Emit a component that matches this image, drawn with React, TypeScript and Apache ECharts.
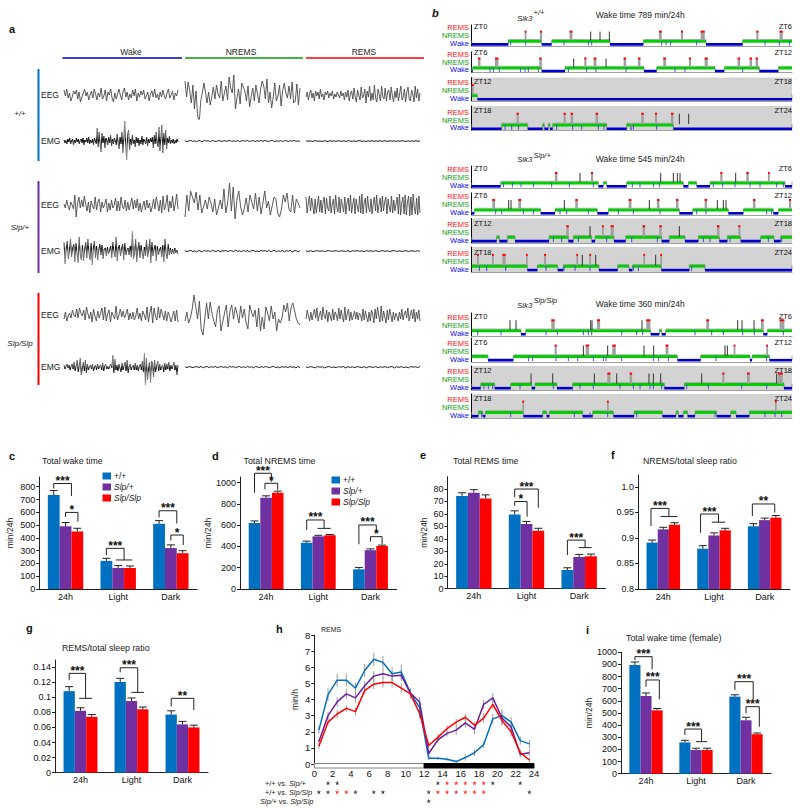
import React, { useEffect, useRef } from "react";
import * as echarts from "echarts";

const FONT = "Liberation Sans";
const BLUE = "#0070c0";
const PURPLE = "#7030a0";
const RED = "#ff0000";
const GENOTYPES = ["+/+", "Slp/+", "Slp/Slp"];
const GROUPS = ["24h", "Light", "Dark"];

// ---------- panel a : traces (read by eye, arbitrary units, pixels around the trace's centre)
const a1WakeEEG = [5,-1,6,-3,2,-6,-2,4,1,5,-4,3,-7,-2,2,6,-1,3,-5,0,4,-3,6,1,-5,2,-2,7,-4,-1,5,-6,3,0,6,-3,-7,2,-4,1,6,0,-5,4,7,-2,3,-5,1,-3,5,-1,6,-6,2,-2,4,0,5,-4,-1,3,-6,1,4,-2,6,-3,1,-5,3,-2,5,-1,-4,2,6,-3,0,4,-5,2,-1,5];
const a1NremEEG = [14,-2,13,4,-8,10,-14,4,-20,-28,-6,2,12,3,-8,3,-10,-2,8,-4,10,1,-3,14,-6,2,9,-5,18,7,2,20,-14,-3,6,-9,12,8,4,-6,9,-12,-2,7,-6,10,1,-8,6,14,9,-4,16,-8,3,-13,-2,12,-6,-1,10,-11,4,12,2,-3,9,-4,13,-8,-6,11,-10,7];
const a1RemEEG = [-2,3,-5,1,5,-3,2,-6,4,-1,3,-4,6,-2,1,-5,3,0,4,-3,2,-1,4,-4,1,-2,3,0,-3,4,-1,2,-5,3,-2,5,-6,1,4,-4,7,-2,-7,5,0,-5,8,-3,-1,6,-8,4,-2,9,-6,2,-5,10,-3,-7,6,1,-6,9,-2,-4,7,-6,3,5,-5,8,-1,-7,4,-3,7,-6,1,9,-5,-2,6,-7,3,8,-4,-6,5,1,-7,9,-3,6,-6,2];
const a1WakeEMG = [1,-2,0.5,-3,2,-1,3,-3,0,2,-4,1,-2,3,-1,2,-3,0.5,2,-2,3,-4,1,-1,3,-2,4,-3,1,-2,2,-4,3,0,-3,13,-6,9,-3,-11,8,-2,5,-7,3,1,-4,4,-2,6,-5,2,-3,3,0,-4,7,-2,-8,4,-3,9,-12,3,20,-5,-19,7,11,-9,2,-4,6,-3,1,-6,4,-2,3,-5,1,-3,5,-4,2,0,-3,4,-5,2,-2,3,-1,4,-7,6,-3,9,-2,-6,14,-10,4,16,-12,8,-4,11,-8,3,-2,5,-3,1,-2,2,-3,0.5,-2,2,-1];
const a1NremEMG = [0.3,-0.6,0.1,0.5,-0.4,0.2,-0.7,0.4,0,-0.5,0.6,-0.2,0.3,-0.6,0.5,-0.1,-0.5,0.4,0.2,-0.6,0.5,-0.3,0.1,0.6,-0.5,0.2,-0.4,0.5,-0.6,0.1,0.4,-0.3,0.6,-0.5,0,0.4,-0.6,0.3,-0.2,0.5,-0.4,0.6,-0.1,-0.5,0.3,0.4,-0.6,0.2,-0.3,0.5,-0.5,0.1,0.4,-0.6,0.3,-0.2,0.5,-0.4,0.2,-0.5];
const a1RemEMG = [0.1,-0.3,0.2,-0.4,0,0.3,-0.3,0.1,-0.5,0.2,0,-0.4,0.3,-0.2,0.1,-0.4,0.3,-0.1,-0.3,0.2,-0.5,0.3,0,-0.3,0.2,-0.4,0.1,0.3,-0.3,0,-0.5,0.2,-0.2,0.4,-0.4,0.1,-0.2,0.3,-0.5,0.2,0,-0.3,0.3,-0.2,0.1,-0.4,0.2,-0.3,0.3,-0.1,-0.4,0.2,-0.3,0.1,-0.2,0.3,-0.4,0.1];
const a2WakeEEG = [1,-3,5,-1,-5,3,0,-4,10,-12,2,8,-3,5,-2,9,1,-6,3,-8,4,-1,-4,8,-5,3,6,-7,3,-3,1,6,-7,2,-5,5,-3,0,7,-6,4,-6,8,-1,-4,5,-6,3,-5,1,7,-4,5,-3,6,-6,2,-7,-1,4,-5,5,-3,2,-7,-2,6,-4,8,1,-6,5,-8,9,-5,0,10,-7,4,-3,9,-6,1,11,-4];
const a2NremEEG = [-12,10,-6,14,8,2,13,-5,10,-8,-2,5,-4,8,2,-7,6,-10,-3,5,-4,16,-8,2,22,-6,18,-14,6,14,-2,-10,-3,7,-7,10,3,-4,12,-6,8,-9,2,14,-3,4,-10,-1,8,6,-8,-12,-4,10,3,12,-4,-7,10,-8,6,2,-3];
const a2RemEEG = [8,-8,2,9,-6,7,-1,-9,6,-8,0,9,-7,5,-8,3,8,-9,7,-3,-6,9,-8,1,6,-9,10,-2,-7,8,-8,6,-1,-7,8,-9,3,7,-6,10,-8,0,7,-9,6,-2,-7,9,-8,11,-9,2,7,-8,9,-3,-7,6,-9,1,8,-6,10,-8,0,7,-7,9,-6,3,8,-9,6,-2,-7,9,-8,5,-6,1,8,-9,11,-10,2,8,-9,10,-10,3,9,-11,8,-10,11,-3,-9,7,-10,9,-8];
const a2WakeEMG = [9,-13,2,10,-8,0,12,-6,3,7,-11,8,-2,-12,14,-4,-9,6,-10,1,9,-7,12,-2,-9,8,-14,3,10,-7,5,-9,1,7,-4,6,-8,2,3,-5,4,-3,1,5,-7,9,-1,-6,14,-10,3,6,-5,2,7,-9,8,-4,1,3,-4,5,-6,20,-8,-3,12,-11,1,9,-7,6,-2,-8,4,-5,11,-6,0,12,-12,9,-5,2,6,-10,5,-4,1,4,-6,6,-11,12,-2,-8,7,-4,3,-3,2,-3,3,-2,1,-3];
const a2NremEMG = [0.4,-0.7,0.2,0.6,-0.5,0.1,-0.8,0.5,-0.2,-0.6,0.7,-0.3,0.4,-0.7,0.6,0,-0.5,0.7,-0.8,0.3,-0.2,0.6,-0.7,0.5,0.1,-0.6,0.8,-0.4,0.2,-0.7,0.6,-0.3,0.5,-0.8,0.3,0.6,-0.5,0.1,-0.7,0.6,-0.2,0.4,-0.6,0.7,-0.8,0.2,0.5,-0.7,0.3,-0.5,0.6,-0.8,0.4,-0.3,0.7,-0.9,0.2,0.6,-1,0.4];
const a2RemEMG = [0.1,-0.4,0.3,-0.5,0,0.3,-0.4,0.2,-0.5,0.1,0.3,-0.3,-0.1,0.4,-0.5,0.2,0,-0.4,0.3,-0.6,0.2,-0.1,0.4,-0.3,0.1,-0.5,0.3,-0.2,0.2,-0.4,0.4,-0.5,0,0.3,-0.3,0.2,-0.6,0.1,0.3,-0.4,0.2,-0.3,-0.1,0.4,-0.5,0.2,0,-0.3,0.3,-0.5];
const a3WakeEEG = [-4,3,-6,-1,2,-3,5,0,-2,6,-3,7,2,-1,5,-5,8,1,-4,3,-7,6,-1,-6,4,-3,2,7,-5,8,-6,1,5,-7,3,-1,-4,9,-5,0,6,-2,4,-3,1,6,-5,2,-4,3,-5,-1,7,-4,2,-6,4,0,-5,8,-7,2,9,-8,7,-1,-5,8,-3,6,1,-5,4,-6,3,-1,-7,-2,4,-6,5,-7];
const a3NremEEG = [-6,3,-8,-3,6,20,8,-4,14,-14,-20,-4,12,-4,13,2,-6,-12,4,9,-16,-7,2,10,-12,4,10,-4,8,1,-8,9,-3,6,-8,-14,10,3,-2,5,-12,7,-16,-2,-14,8,2,-6,9,-4,3,-16,-4,-8,-3,10,3,12,-6,7,12,4,-4,-8,-10];
const a3RemEEG = [-4,5,-1,-6,3,-5,1,6,-3,7,-6,0,4,-5,8,-1,-4,5,-7,3,-1,-6,6,-5,3,0,-6,7,-4,5,-2,-7,8,-5,1,6,-6,3,-5,-1,4,-4,3,-5,2,0,-6,6,-5,4,-2,-7,3,-6,5,1,-8,6,-4,8,-1,-7,9,-6,4,-2,-8,5,-5,6,0,-7,3,-5,2,-1,-6,3,-4,6,-5,1,4,-3,7,-6,0,5,-4,6,-7,3,-4,5,-6];
const a3WakeEMG = [2,-2,0.5,3,-1,2,-3,1,3,-2,5,-4,1,7,-5,2,9,-8,-1,5,-4,7,-6,3,-3,0.5,2,-2,3,-4,0,2,-3,3,-2,1,2,-3,4,-4,1,3,-2,0.5,-2,1,3,-1,12,-6,8,-3,2,-4,3,-1,-5,4,-3,1,5,-4,7,-6,1,3,-3,0.5,2,-3,4,-3,2,-4,1,3,-3,6,-5,14,-18,9,-13,-3,5,-16,6,4,-10,7,-5,1,6,-4,3,-3,0.5,2,-5,4,-3,3,-2,5,-4,2,-2,1,5,-3,2,-8,2];
const a3NremEMG = [0.3,-0.6,0.5,-0.1,-0.7,0.4,0.2,-0.5,0.6,-0.8,0.1,0.5,-0.6,0.3,-0.3,0.6,-0.7,0,0.5,-0.4,0.2,-0.8,0.6,-0.2,0.4,-0.7,0.1,0.5,-0.5,0.3,-0.6,0.6,-0.3,0.2,-0.8,0.5,0,-0.6,0.4,-0.5,0.6,-0.2,-0.7,0.3,0.5,-0.6,0.1,-0.8,0.5,-0.3,0.4,-0.7,0.6,-0.4,0.2,-0.9,0.5,-0.5];
const a3RemEMG = [0.2,-0.6,0.4,-0.1,-0.8,0.5,-0.3,0.3,-0.9,0.1,0.5,-0.5,0,-0.7,0.4,-0.2,0.5,-1,0.3,-0.4,0.2,-0.7,0.5,-0.1,-0.6,0.4,-0.9,0.3,0,-0.5,0.5,-0.8,0.2,-0.3,0.4,-0.7,0.1,0.5,-1,0.3,-0.4,0.4,-0.6,0.1,-0.8,0.5,-0.2,0.3,-0.5,0.4];
const traceRows = [
  { y: 95, traces: [a1WakeEEG, a1NremEEG, a1RemEEG] },
  { y: 141, traces: [a1WakeEMG, a1NremEMG, a1RemEMG] },
  { y: 205, traces: [a2WakeEEG, a2NremEEG, a2RemEEG] },
  { y: 251, traces: [a2WakeEMG, a2NremEMG, a2RemEMG] },
  { y: 315, traces: [a3WakeEEG, a3NremEEG, a3RemEEG] },
  { y: 367, traces: [a3WakeEMG, a3NremEMG, a3RemEMG] },
];

// ---------- panel b : hypnograms, time units along each 6 h row run from 155 to 1116
const hypnoWake = [
  [[155,265],[365,395],[570,670],[858,968]],
  [[155,158],[365,435],[672,710],[885,913],[1018,1075]],
  [[172,1116]],
  [[155,245],[323,368],[373,385],[390,398],[560,620],[632,634],[760,1116]],
  [[155,242],[535,550],[560,620],[790,805],[830,870],[1095,1116]],
  [[155,163],[362,405],[532,565],[778,818],[925,970],[1060,1075]],
  [[155,230],[238,262],[285,387],[445,460],[515,525],[582,617],[725,748],[795,835],[898,922],[962,1022],[1062,1082]],
  [[322,352],[413,430],[537,593],[627,637],[724,808],[855,1116]],
  [[303,317],[692,718],[725,737],[1030,1042]],
  [[204,280],[772,842],[990,996],[1048,1116]],
  [[155,182],[224,272],[335,345],[411,458],[733,793],[1092,1116]],
  [[155,175],[188,196],[310,368],[380,388],[488,518],[580,642],[727,768],[775,790],[803,825],[890,932],[948,988]],
];
const hypnoRems = [
  [[315,318],[361,365],[450,456],[718,724],[784,788],[843,853],[1010,1014],[1080,1087]],
  [[175,180],[226,234],[359,364],[494,498],[522,528],[612,617],[655,660],[731,737],[808,812],[855,862],[954,959],[990,995],[1008,1013]],
  [[156,160]],
  [[291,295],[432,436],[453,458],[528,533],[665,670],[706,710],[754,759]],
  [[406,411],[514,518],[902,906],[980,985],[1045,1048]],
  [[218,224],[296,302],[467,472],[627,633],[712,717],[769,774],[855,860],[1000,1005],[1108,1112]],
  [[440,445],[547,550],[573,580],[669,674],[719,724],[892,897],[956,960]],
  [[172,175],[217,220],[248,256],[319,322],[373,377],[470,473],[509,512],[671,674],[722,725]],
  [[395,403],[532,539],[680,690],[860,866],[1024,1030],[1080,1092]],
  [[405,409],[498,506],[578,586],[738,744],[942,945],[1040,1043]],
  [[563,570],[630,635],[908,912],[982,988],[1075,1087]],
  [[308,311],[562,565],[1066,1069]],
];
const hypnoSpikes = [
  [512,540,568],
  [461,558],
  [],
  [778,806],
  [480,722,760,772,780,947],
  [266,273,433,688,892,910,918],
  [510,778],
  [487,527,707],
  [270,288,512,516,666,953,966,1002],
  [490,563,672,701,915,922],
  [333,398,523,590,687,700,722,845,1070],
  [],
];
const hypnoBlips = [
  [272,317,432,505,515,725,738,752,830,1035,1078,1108],
  [210,220,238,302,315,325,355,445,500,528,618,765,795,968],
  [],
  [255,275,295,410,458,485,535,552,640,710],
  [250,277,303,340,395,448,520,637,660,700,718,880,908,945,990,1020,1070,1090],
  [227,245,310,340,420,440,505,595,640,720,830,858,1040,1055],
  [400,425,475,560,635,712,850,870,930,1045,1085],
  [178,200,257,378,432,465,510,640,655,815],
  [173,243,378,412,490,505,515,605,650,668,825,875,910,968,1003,1090],
  [326,338,408,445,473,520,550,558,605,700,716,745,888,1040],
  [192,205,218,300,400,480,520,600,640,660,690,700,725,800,865,965,1040],
  [185,272,463,510,563,650,885,1035,1065,1085],
];
const hypnoBoxes = [[25,46],[52,72.7],[77.5,101],[106,130.7],[166,188],[193,215],[218.5,243],[247,272],[313,336],[338,362],[366,390],[394,418]];
const hypnoShaded = [false,false,true,true,false,false,true,true,false,false,true,true];
const hypnoStartLabels = ["ZT0","ZT6","ZT12","ZT18","ZT0","ZT6","ZT12","ZT18","ZT0","ZT6","ZT12","ZT18"];
const hypnoEndLabels = ["ZT6","ZT12","ZT18","ZT24","ZT6","ZT12","ZT18","ZT24","ZT6","ZT12","ZT18","ZT24"];
const STATE_WAKE = 0, STATE_NREM = 1, STATE_REM = 3.2;

// ---------- bars: value per group (24h, Light, Dark)
const cWT = [735,220,510], cHet = [490,165,320], cHom = [450,165,280];
const cErrWT = [35,20,25], cErrHet = [30,18,25], cErrHom = [25,15,20];
const dWT = [620,435,185], dHet = [858,495,365], dHom = [905,505,405];
const dErrWT = [20,15,18], dErrHet = [18,10,12], dErrHom = [15,7,8];
const eWT = [74.5,59.5,15], eHet = [77,52,25.5], eHom = [72.5,46.5,26];
const eErrWT = [2.5,3,1.8], eErrHet = [2.5,2,2], eErrHom = [2.8,2,1.8];
const fWT = [0.891,0.879,0.923], fHet = [0.917,0.905,0.935], fHom = [0.926,0.915,0.94];
const fErrWT = [0.005,0.006,0.005], fErrHet = [0.004,0.005,0.004], fErrHom = [0.004,0.004,0.004];
const gWT = [0.108,0.12,0.077], gHet = [0.082,0.095,0.064], gHom = [0.074,0.084,0.06];
const gErrWT = [0.006,0.005,0.005], gErrHet = [0.004,0.004,0.004], gErrHom = [0.003,0.003,0.003];
const iWT = [895,258,635], iHet = [640,195,440], iHom = [522,195,325];
const iErrWT = [25,17,15], iErrHet = [25,15,25], iErrHom = [15,15,10];

const cTicks = [0,100,200,300,400,500,600,700,800];
const dTicks = [0,200,400,600,800,1000];
const eTicks = [0,10,20,30,40,50,60,70,80];
const fTicks = [0.8,0.85,0.9,0.95,1];
const gTicks = [0,0.02,0.04,0.06,0.08,0.1,0.12,0.14];
const iTicks = [0,100,200,300,400,500,600,700,800,900,1000];

// brackets: [group, left bar, right bar, y left end, y top, y right end, cap half width in bars, stars]
const cBrackets = [[0,0,1.5,786,825,727,0,"***"],[0,1,2.05,565,599,526,0,"*"],[1,0,1.5,266,318,227,0.7,"***"],[2,0,1.5,560,612,513,0,"***"],[2,1,2.05,378,422,344,0,"*"]];
const dBrackets = [[0,0,1.45,906,1088,1009,0,"***"],[0,0.9,2,937,994,931,0,"*"],[1,0,1.5,555,649,570,0.57,"***"],[2,0,1.5,420,602,530,0,"***"],[2,1,2,445,492,423,0,"*"]];
const eBrackets = [[1,0,2,73.4,80,65,0,"***"],[1,0,1.05,66.6,70,57.8,0,"*"],[2,0,1.5,27,39,33,0.55,"***"]];
const fBrackets = [[0,-0.1,1.5,0.9235,0.958,0.942,0.75,"***"],[1,-0.2,1.4,0.9105,0.947,0.931,0.6,"***"],[2,-0.1,1.9,0.943,0.9667,0.95,0,"**"]];
const gBrackets = [[0,0,1.45,0.1228,0.1316,0.0985,0.57,"***"],[1,0,1.55,0.133,0.139,0.1064,0.56,"***"],[2,0,2,0.0875,0.0985,0.083,0,"**"]];
const iBrackets = [[0,0,1.55,937,964,860,0,"***"],[0,1,2.2,717,772,613,0,"***"],[1,0,1.5,319,368,264,0.5,"***"],[2,0,1.65,690,758,613,0,"***"],[2,1,2.2,497,552,387,0,"***"]];

// ---------- panel h
const hours = [0.5,1.5,2.5,3.5,4.5,5.5,6.5,7.5,8.5,9.5,10.5,11.5,12.5,13.5,14.5,15.5,16.5,17.5,18.5,19.5,20.5,21.5,22.5,23.5];
const hWT = [2.1,4.3,5.2,5.2,4.7,5.8,6.5,6.3,5.6,5.7,4.4,3.5,0.35,0.35,0.3,0.15,0.4,0.7,1.2,2.8,3.0,2.6,1.45,1.25];
const hHet = [1.4,3.0,3.85,4.35,4.1,4.85,5.45,5.6,5.45,5.5,4.4,3.85,0.65,1.5,1.9,2.1,2.55,2.15,3.7,4.1,2.85,2.3,0.6,0.7];
const hHom = [1.1,2.6,3.1,3.45,3.25,4.55,4.95,5.05,5.05,4.7,4.35,3.15,1.15,1.65,2.2,2.6,2.9,2.4,2.85,3.7,2.7,2.0,0.7,0.25];
const hErrWT = [0.2,0.4,0.4,0.4,0.35,0.4,0.4,0.4,0.4,0.45,0.3,0.4,0.1,0.1,0.1,0.1,0.2,0.2,0.2,0.3,0.4,0.3,0.25,0.25];
const hErrHet = [0.15,0.25,0.3,0.3,0.3,0.3,0.3,0.3,0.3,0.35,0.25,0.3,0.2,0.2,0.2,0.3,0.3,0.3,0.3,0.3,0.4,0.35,0.2,0.2];
const hErrHom = [0.15,0.2,0.25,0.2,0.25,0.25,0.3,0.3,0.3,0.3,0.3,0.3,0.15,0.2,0.2,0.2,0.2,0.2,0.3,0.3,0.3,0.3,0.2,0.15];
const lightDark = [[0,12,"#ffffff","#808080"],[12,24,"#000000","#000000"]];
const starBlack = [[1.5,0],[2.5,0],[13.5,0],[19.5,0],[22.5,0],[0.5,1],[1.5,1],[4.5,1],[6.5,1],[7.5,1],[12.5,1],[23.5,1],[12.5,2]];
const starRed = [[14.5,0],[15.5,0],[16.5,0],[17.5,0],[18.5,0],[2.5,1],[3.5,1],[13.5,1],[14.5,1],[15.5,1],[16.5,1],[17.5,1],[18.5,1]];
const STAR_PATH = "path://M5 0 L6.2 3.5 L10 3.5 L7 5.7 L8.1 9.5 L5 7.2 L1.9 9.5 L3 5.7 L0 3.5 L3.8 3.5 Z";

// ---------- option building
function txt(text: string, x: number, y: number, o: any = {}) {
  return {
    type: "text", x, y, silent: true,
    style: {
      text, fill: o.fill || "#222",
      font: `${o.style || ""} ${o.weight || ""} ${o.size || 9}px "${FONT}"`,
      textAlign: o.align || "left", textVerticalAlign: "middle",
      align: o.align || "left", verticalAlign: "middle",
      rich: o.rich,
    },
  };
}

function buildOption() {
  const grid: any[] = [], xAxis: any[] = [], yAxis: any[] = [], series: any[] = [], graphic: any[] = [];

  // ---- panel a
  const traceCols = [[64,114],[185,115],[306,114]];
  const emgWakeColor = { type: "linear", x: 0, y: 0, x2: 0, y2: 1, colorStops: [
    { offset: 0, color: "#999" }, { offset: 0.38, color: "#555" }, { offset: 0.5, color: "#000" }, { offset: 0.62, color: "#555" }, { offset: 1, color: "#999" },
  ] };
  traceRows.forEach((row, r) => {
    row.traces.forEach((values, c) => {
      const idx = grid.length;
      const isEmg = r % 2 === 1;
      grid.push({ left: traceCols[c][0], width: traceCols[c][1], top: row.y - 24, height: 48 });
      xAxis.push({ type: "category", gridIndex: idx, show: false, boundaryGap: false, data: values.map((_, i) => i) });
      yAxis.push({ type: "value", gridIndex: idx, show: false, min: -24, max: 24 });
      series.push({
        type: "line", xAxisIndex: idx, yAxisIndex: idx, data: values, symbol: "none", silent: true,
        lineStyle: { width: isEmg ? 1 : 0.9, color: isEmg ? (c === 0 ? emgWakeColor : "#222") : "#4a4a4a", join: "bevel" },
      });
    });
  });
  graphic.push(txt("a", 9, 29, { weight: "bold", size: 11, fill: "#111" }));
  [["Wake",131,"#0000c0",62.5,182],["NREMS",241,"#009a00",185,303],["REMS",364,"#ff0000",306,424]].forEach(([name, cx, col, x1, x2]: any) => {
    graphic.push(txt(name, cx, 52, { align: "center", size: 8.5 }));
    graphic.push({ type: "line", silent: true, shape: { x1, y1: 58, x2, y2: 58 }, style: { stroke: col, lineWidth: 1.3 } });
  });
  [[69,161,BLUE],[181,273,PURPLE],[293,385,RED]].forEach(([y1, y2, col]: any) => {
    graphic.push({ type: "line", silent: true, shape: { x1: 38.5, y1, x2: 38.5, y2 }, style: { stroke: col, lineWidth: 2 } });
  });
  graphic.push(txt("+/+", 20, 113, { align: "center", size: 8, style: "italic" }));
  graphic.push(txt("Slp/+", 20, 227, { align: "center", size: 8, style: "italic" }));
  graphic.push(txt("Slp/Slp", 20, 343, { align: "center", size: 8, style: "italic" }));
  traceRows.forEach((row, r) => graphic.push(txt(r % 2 ? "EMG" : "EEG", 41, row.y, { size: 8.5 })));

  // ---- panel b
  hypnoBoxes.forEach(([top, bottom], r) => {
    const idx = grid.length;
    grid.push({ left: 471.7, width: 320.3, top, height: bottom - top, show: hypnoShaded[r], backgroundColor: "#d3d3d3", borderWidth: 0 });
    xAxis.push({ type: "value", gridIndex: idx, min: 155, max: 1116, axisLabel: { show: false }, axisTick: { show: false }, splitLine: { show: false }, axisLine: { onZero: false, lineStyle: { color: "#a0a0a0", width: 1 } } });
    yAxis.push({ type: "value", gridIndex: idx, min: -0.4, max: 4.85, axisLabel: { show: false }, axisTick: { show: false }, splitLine: { show: false }, axisLine: { show: true, onZero: false, lineStyle: { color: "#000", width: 1 } } });
    const items: number[][] = [];
    let cursor = 155;
    hypnoWake[r].forEach(([s, e]) => {
      if (s > cursor) items.push([1, cursor, s]);
      items.push([0, s, e]);
      cursor = e;
    });
    if (cursor < 1116) items.push([1, cursor, 1116]);
    hypnoRems[r].forEach(([s, e]) => items.push([2, s, e]));
    hypnoSpikes[r].forEach((x) => items.push([3, x, x]));
    hypnoBlips[r].forEach((x) => items.push([4, x, x]));
    series.push({
      type: "custom", xAxisIndex: idx, yAxisIndex: idx, silent: true, clip: true, data: items,
      renderItem: (_p: any, api: any) => {
        const kind = api.value(0);
        const x0 = api.coord([api.value(1), 0])[0];
        const x1 = api.coord([api.value(2), 0])[0];
        const yW = api.coord([0, STATE_WAKE])[1];
        const yN = api.coord([0, STATE_NREM])[1];
        const yR = api.coord([0, STATE_REM])[1];
        const ln = (a: number, b: number, c: number, d: number, stroke: string, lineWidth: number) => ({ type: "line", shape: { x1: a, y1: b, x2: c, y2: d }, style: { stroke, lineWidth } });
        if (kind === 0) return { type: "group", children: [
          ln(x0, yW, x0, yN, "#777", 0.7), ln(x1, yW, x1, yN, "#777", 0.7),
          { type: "rect", shape: { x: x0, y: yW - 1.3, width: x1 - x0, height: 2.6 }, style: { fill: "#0000c8" } },
        ] };
        if (kind === 1) return { type: "group", children: [
          { type: "rect", shape: { x: x0, y: yN - 0.6, width: x1 - x0, height: 2.9 }, style: { fill: "#00d000" } },
          ln(x0, yN - 0.9, x1, yN - 0.9, "#888", 0.6),
        ] };
        if (kind === 2) return { type: "group", children: [
          { type: "rect", shape: { x: x0 - 0.4, y: yR, width: Math.max(1.5, x1 - x0 + 0.8), height: yN - yR }, style: { fill: "#a0a0a0" } },
          { type: "rect", shape: { x: x0 - 0.4, y: yR - 1, width: Math.max(1.6, x1 - x0 + 0.8), height: 2 }, style: { fill: "#ff0000" } },
        ] };
        if (kind === 3) return ln(x0, yN, x0, yR, "#333", 1);
        return ln(x0, yN + 1, x0, yW + 1, "#3a3ad0", 0.9);
      },
    });
    const isLabelCol = [["REMS", 18.4, "#ff1010"], ["NREMS", 10.7, "#10a010"], ["Wake", 3, "#1010e0"]];
    isLabelCol.forEach(([name, dy, fill]: any) => graphic.push(txt(name, 469, bottom - dy, { align: "right", size: 7.5, fill })));
    graphic.push(txt(hypnoStartLabels[r], 474, bottom - 20, { size: 7.5, fill: "#111" }));
    graphic.push(txt(hypnoEndLabels[r], 792, bottom - 20, { size: 7.5, align: "right", fill: "#111" }));
  });
  graphic.push(txt("b", 432, 13, { weight: "bold", style: "italic", size: 11, fill: "#111" }));
  [["+/+",18,12,15.3,"Wake time 789 min/24h"],["Slp/+",159,155,158.7,"Wake time 545 min/24h"],["Slp/Slp",305,300.7,304.3,"Wake time 360 min/24h"]].forEach(([sup, y, ySup, yT, wake]: any) => {
    graphic.push(txt("Sik3", 517, y, { style: "italic", size: 8 }));
    graphic.push(txt(sup, 533.5, ySup, { style: "italic", size: 7.5 }));
    graphic.push(txt(wake, 595.7, yT, { size: 8.5 }));
  });

  // ---- bars
  const barPanel = (p: any) => {
    const idx = grid.length;
    const bottom = p.bottom, top = p.top;
    grid.push({ left: p.left, width: p.width, top, height: bottom - top });
    xAxis.push({
      type: "category", gridIndex: idx, data: GROUPS,
      axisTick: { show: false },
      axisLine: { onZero: false, lineStyle: { color: "#222", width: 1 } },
      axisLabel: { color: "#111", fontFamily: FONT, fontSize: 9, margin: 3, interval: 0 },
    });
    yAxis.push({
      type: "value", gridIndex: idx, min: p.min, max: p.max, splitLine: { show: false },
      name: p.yName, nameLocation: "middle", nameGap: p.nameGap, nameTextStyle: { color: "#222", fontFamily: FONT, fontSize: 8.5 },
      axisLine: { show: true, onZero: false, lineStyle: { color: "#222", width: 1 } },
      axisTick: { show: true, length: 3, customValues: p.ticks, lineStyle: { color: "#222" } },
      axisLabel: { color: "#111", fontFamily: FONT, fontSize: 9, margin: 4, customValues: p.ticks, formatter: p.fmt },
    });
    const colors = [BLUE, PURPLE, RED];
    p.vals.forEach((v: number[], s: number) => {
      series.push({ type: "bar", name: GENOTYPES[s], xAxisIndex: idx, yAxisIndex: idx, data: v, barWidth: p.bw, barGap: 0, silent: true, itemStyle: { color: colors[s] } });
    });
    const errItems: number[][] = [];
    p.vals.forEach((v: number[], s: number) => v.forEach((val, g) => errItems.push([g, s, val, p.errs[s][g]])));
    series.push({
      type: "custom", xAxisIndex: idx, yAxisIndex: idx, silent: true, z: 3, data: errItems,
      renderItem: (_q: any, api: any) => {
        const g = api.value(0), s = api.value(1), val = api.value(2), er = api.value(3);
        const base = api.coord([g, val]);
        const tip = api.coord([g, val + er]);
        const x = base[0] + (s - 1) * p.bw;
        return { type: "group", children: [
          { type: "line", shape: { x1: x, y1: base[1], x2: x, y2: tip[1] }, style: { stroke: "#222", lineWidth: 1 } },
          { type: "line", shape: { x1: x - 4, y1: tip[1], x2: x + 4, y2: tip[1] }, style: { stroke: "#222", lineWidth: 1 } },
        ] };
      },
    });
    const br = p.brackets;
    series.push({
      type: "custom", xAxisIndex: idx, yAxisIndex: idx, silent: true, z: 4, clip: false,
      data: br.map((b: any[]) => b.slice(0, 7)),
      renderItem: (q: any, api: any) => {
        const b = br[q.dataIndex];
        const cx = api.coord([b[0], 0])[0];
        const xl = cx + (b[1] - 1) * p.bw, xr = cx + (b[2] - 1) * p.bw;
        const yl = api.coord([b[0], b[3]])[1], yt = api.coord([b[0], b[4]])[1], yr = api.coord([b[0], b[5]])[1];
        const kids: any[] = [
          { type: "polyline", shape: { points: [[xl, yl], [xl, yt], [xr, yt], [xr, yr]] }, style: { fill: "none", stroke: "#222", lineWidth: 1 } },
          txt(b[7], (xl + xr) / 2, yt - 2.5, { weight: "bold", size: 12, align: "center", fill: "#111" }),
        ];
        if (b[6]) kids.push({ type: "line", shape: { x1: xr - b[6] * p.bw, y1: yr, x2: xr + b[6] * p.bw, y2: yr }, style: { stroke: "#222", lineWidth: 1 } });
        return { type: "group", children: kids };
      },
    });
  };
  const str = (v: number) => String(v);
  barPanel({ left: 39.2, width: 158, top: 477, bottom: 589, min: 0, max: 876, ticks: cTicks, fmt: str, vals: [cWT,cHet,cHom], errs: [cErrWT,cErrHet,cErrHom], bw: 11.8, brackets: cBrackets, yName: "min/24h", nameGap: 25 });
  barPanel({ left: 240, width: 156.6, top: 477, bottom: 589, min: 0, max: 1053, ticks: dTicks, fmt: str, vals: [dWT,dHet,dHom], errs: [dErrWT,dErrHet,dErrHom], bw: 11.6, brackets: dBrackets, yName: "min/24h", nameGap: 26 });
  barPanel({ left: 447.5, width: 158, top: 476.7, bottom: 588.7, min: 0, max: 89.9, ticks: eTicks, fmt: str, vals: [eWT,eHet,eHom], errs: [eErrWT,eErrHet,eErrHom], bw: 11.8, brackets: eBrackets, yName: "min/24h", nameGap: 19 });
  barPanel({ left: 638, width: 152, top: 475, bottom: 589, min: 0.8, max: 1.0235, ticks: fTicks, fmt: (v: number) => (v === 1 ? "1.0" : String(v)), vals: [fWT,fHet,fHom], errs: [fErrWT,fErrHet,fErrHom], bw: 11.2, brackets: fBrackets });
  barPanel({ left: 55, width: 153, top: 660, bottom: 772.7, min: 0, max: 0.1493, ticks: gTicks, fmt: str, vals: [gWT,gHet,gHom], errs: [gErrWT,gErrHet,gErrHom], bw: 11.3, brackets: gBrackets });
  barPanel({ left: 621, width: 150, top: 652.3, bottom: 773.7, min: 0, max: 1000, ticks: iTicks, fmt: str, vals: [iWT,iHet,iHom], errs: [iErrWT,iErrHet,iErrHom], bw: 11.1, brackets: iBrackets, yName: "min/24h", nameGap: 24 });

  const letters: any[] = [["c",9,456],["d",212,456],["e",420,455],["f",611,455],["g",26,628],["h",276,629],["i",586,630]];
  letters.forEach(([l, x, y]) => graphic.push(txt(l, x, y, { weight: "bold", size: 11, fill: "#111" })));
  const titles: any[] = [["Total wake time",42,460.7],["Total NREMS time",243.5,460.7],["Total REMS time",453,460.7],["NREMS/total sleep ratio",643,460.7],["REMS/total sleep ratio",62,648],["REMS",321,629.5],["Total wake time (female)",626,637.5]];
  titles.forEach(([t, x, y]) => graphic.push(txt(t, x, y, { size: t === "REMS" ? 7 : 8.8 })));

  // ---- panel h
  const h = grid.length;
  grid.push({ left: 314.3, width: 219.7, top: 635, height: 129 });
  xAxis.push({
    type: "value", gridIndex: h, min: 0, max: 24, interval: 2, splitLine: { show: false },
    axisLine: { show: false }, axisTick: { show: false },
    axisLabel: { color: "#111", fontFamily: FONT, fontSize: 9.5, margin: 4 },
  });
  yAxis.push({
    type: "value", gridIndex: h, min: 0, max: 8, interval: 1, splitLine: { show: false },
    name: "min/h", nameLocation: "middle", nameGap: 15, nameTextStyle: { color: "#222", fontFamily: FONT, fontSize: 8.5 },
    axisLine: { show: true, onZero: false, lineStyle: { color: "#222", width: 1 } },
    axisTick: { show: true, length: 3, lineStyle: { color: "#222" } },
    axisLabel: { color: "#111", fontFamily: FONT, fontSize: 9.5, margin: 4 },
  });
  [[hWT,hErrWT],[hHet,hErrHet],[hHom,hErrHom]].forEach(([v, er]) => {
    series.push({
      type: "custom", xAxisIndex: h, yAxisIndex: h, silent: true, z: 1, data: hours.map((t, i) => [t, v[i], er[i]]),
      renderItem: (_q: any, api: any) => {
        const a = api.coord([api.value(0), api.value(1) - api.value(2)]);
        const b = api.coord([api.value(0), api.value(1) + api.value(2)]);
        return { type: "line", shape: { x1: a[0], y1: a[1], x2: b[0], y2: b[1] }, style: { stroke: "#9a9a9a", lineWidth: 1 } };
      },
    });
  });
  [hWT,hHet,hHom].forEach((v, s) => {
    series.push({ type: "line", name: GENOTYPES[s], xAxisIndex: h, yAxisIndex: h, z: 2, silent: true, symbol: "none", data: hours.map((t, i) => [t, v[i]]), lineStyle: { width: 1.5, color: [BLUE, "#6a1fa0", RED][s] } });
  });
  series.push({
    type: "custom", xAxisIndex: h, yAxisIndex: h, silent: true, clip: false, z: 3, data: lightDark.map((d) => [d[0], d[1]]),
    renderItem: (q: any, api: any) => {
      const a = api.coord([api.value(0), 0]);
      const b = api.coord([api.value(1), 0]);
      const d = lightDark[q.dataIndex];
      return { type: "rect", shape: { x: a[0], y: a[1] - 0.5, width: b[0] - a[0], height: 4.5 }, style: { fill: d[2], stroke: d[3], lineWidth: 1 } };
    },
  });
  const st = grid.length;
  grid.push({ left: 314.3, width: 219.7, top: 778.5, height: 27 });
  xAxis.push({ type: "value", gridIndex: st, min: 0, max: 24, show: false });
  yAxis.push({ type: "category", gridIndex: st, show: false, inverse: true, data: [0, 1, 2] });
  series.push({ type: "scatter", xAxisIndex: st, yAxisIndex: st, silent: true, symbol: STAR_PATH, symbolSize: 4.5, data: starBlack, itemStyle: { color: "#111" } });
  series.push({ type: "scatter", xAxisIndex: st, yAxisIndex: st, silent: true, symbol: STAR_PATH, symbolSize: 4.5, data: starRed, itemStyle: { color: RED } });
  const richH = { n: { fontFamily: FONT, fontSize: 7.3, color: "#222" }, i: { fontFamily: FONT, fontSize: 7.3, fontStyle: "italic", color: "#222" } };
  graphic.push(txt("{n|+/+ vs. }{i|Slp/+}", 265, 783, { size: 7.3, rich: richH }));
  graphic.push(txt("{n|+/+ vs. }{i|Slp/Slp}", 265, 792, { size: 7.3, rich: richH }));
  graphic.push(txt("{i|Slp/+}{n| vs. }{i|Slp/Slp}", 260, 801, { size: 7.3, rich: richH }));

  const legendData = [
    { name: "+/+", textStyle: { fontStyle: "normal" } },
    { name: "Slp/+", textStyle: { fontStyle: "italic" } },
    { name: "Slp/Slp", textStyle: { fontStyle: "italic" } },
  ];
  const legendBase = { orient: "vertical", itemWidth: 8.5, itemHeight: 7, itemGap: 2, icon: "rect", selectedMode: false, padding: 0, textStyle: { fontFamily: FONT, fontSize: 8.5, color: "#222", padding: [0, 0, 0, -2] }, data: legendData };

  return {
    animation: false, backgroundColor: "#ffffff",
    textStyle: { fontFamily: FONT },
    grid, xAxis, yAxis, series,
    legend: [{ ...legendBase, left: 102.5, top: 471.5 }, { ...legendBase, left: 331.5, top: 475.5 }],
    graphic: { elements: graphic },
  };
}

export default function App() {
  const ref = useRef<HTMLDivElement>(null);
  useEffect(() => {
    document.body.style.margin = "0";
    const chart = echarts.init(ref.current!, undefined, { renderer: "svg" });
    chart.setOption(buildOption() as any);
    return () => chart.dispose();
  }, []);
  return <div ref={ref} style={{ width: 800, height: 810 }} />;
}
